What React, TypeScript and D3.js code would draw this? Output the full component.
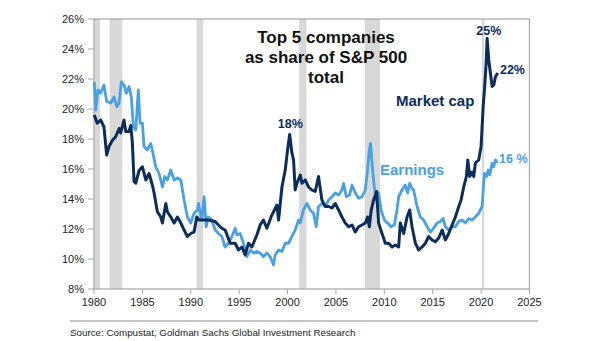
import React from "react";
import * as d3 from "d3";

const mcapYears = [1980.03,1980.34,1980.69,1981.03,1981.31,1981.55,1981.89,1982.24,1982.59,1982.76,1983.1,1983.28,1983.62,1983.8,1983.96,1984.14,1984.31,1984.66,1985.0,1985.35,1985.69,1986.03,1986.21,1986.55,1986.9,1987.07,1987.42,1987.58,1987.93,1988.28,1988.62,1988.97,1989.31,1989.65,1990.0,1990.34,1990.62,1990.86,1991.31,1991.82,1992.52,1992.86,1993.21,1993.55,1994.07,1994.59,1994.93,1995.28,1995.62,1995.96,1996.31,1996.83,1997.17,1997.51,1997.86,1998.38,1998.9,1999.07,1999.42,1999.76,2000.0,2000.22,2000.45,2000.62,2000.79,2000.97,2001.31,2001.49,2001.83,2002.17,2002.52,2002.86,2003.2,2003.55,2003.9,2004.24,2004.59,2004.93,2005.27,2005.62,2005.96,2006.31,2006.66,2007.0,2007.34,2007.69,2008.03,2008.27,2008.45,2008.65,2008.89,2009.2,2009.41,2009.76,2010.1,2010.44,2010.8,2011.14,2011.48,2011.65,2012.0,2012.35,2012.62,2012.86,2013.21,2013.55,2013.9,2014.24,2014.58,2014.93,2015.27,2015.62,2015.97,2016.31,2016.65,2017.0,2017.34,2017.69,2017.93,2018.2,2018.48,2018.62,2018.82,2019.07,2019.24,2019.41,2019.75,2020.0,2020.21,2020.37,2020.52,2020.62,2020.79,2020.96,2021.14,2021.31,2021.48,2021.72];
const mcapValues = [19.6,19.05,19.27,18.8,16.93,17.5,17.9,18.15,18.7,18.4,19.27,18.5,18.5,18.9,17.8,15.15,15.05,15.9,16.15,15.27,15.7,14.93,14.4,13.15,12.8,12.4,13.7,13.15,12.8,12.4,12.8,12.4,11.93,11.5,11.7,11.8,12.8,12.6,12.6,12.6,12.5,12.27,12.05,11.93,11.05,11.05,10.6,10.8,10.27,11.05,10.8,11.6,12.27,12.6,12.05,12.93,13.6,12.6,14.8,15.93,17.27,18.3,17.07,16.6,14.6,15.05,15.6,15.05,15.27,14.8,14.6,14.5,15.5,13.93,13.5,13.5,13.4,13.7,13.27,12.8,12.4,12.15,12.27,11.8,12.15,12.27,12.4,12.8,12.15,13.27,13.93,14.5,12.4,11.7,11.05,11.05,10.8,10.93,10.8,12.4,11.7,12.8,13.27,12.15,11.05,10.6,10.8,11.05,11.5,11.27,11.15,11.4,11.93,11.27,11.7,12.27,12.8,13.5,13.93,14.8,15.5,16.6,15.5,15.8,15.5,16.4,16.6,17.5,20.15,21.5,23.05,24.7,23.27,22.4,21.5,21.6,22.15,22.4];

const earnYears = [1980.03,1980.18,1980.41,1980.69,1981.03,1981.31,1981.73,1982.07,1982.35,1982.59,1982.82,1983.1,1983.34,1983.62,1983.86,1984.07,1984.31,1984.58,1984.76,1985.0,1985.17,1985.51,1985.87,1986.13,1986.38,1986.72,1987.07,1987.31,1987.58,1987.93,1988.28,1988.62,1988.97,1989.31,1989.65,1990.0,1990.34,1990.69,1990.79,1991.14,1991.38,1991.59,1991.82,1992.17,1992.52,1992.86,1993.21,1993.55,1993.89,1994.24,1994.59,1994.76,1995.1,1995.44,1995.8,1996.14,1996.48,1996.83,1997.17,1997.51,1997.86,1998.21,1998.55,1998.72,1999.07,1999.42,1999.76,2000.1,2000.45,2000.79,2001.13,2001.31,2001.65,2002.0,2002.34,2002.68,2002.96,2003.2,2003.55,2003.9,2004.24,2004.59,2004.93,2005.27,2005.62,2005.79,2006.07,2006.41,2006.66,2007.0,2007.34,2007.69,2008.03,2008.27,2008.45,2008.58,2008.76,2008.96,2009.17,2009.41,2009.66,2010.0,2010.34,2010.69,2011.03,2011.31,2011.48,2011.83,2012.17,2012.41,2012.62,2012.86,2013.03,2013.38,2013.72,2014.06,2014.42,2014.76,2015.1,2015.45,2015.79,2016.07,2016.31,2016.65,2017.0,2017.34,2017.69,2018.03,2018.38,2018.72,2019.07,2019.41,2019.75,2020.1,2020.34,2020.55,2020.73,2020.89,2021.14,2021.31,2021.48,2021.65];
const earnValues = [21.8,19.93,21.27,21.05,21.6,20.5,20.4,20.8,20.15,20.4,21.8,21.6,21.05,21.5,20.8,18.8,18.6,21.27,19.05,19.05,17.5,17.27,17.7,16.93,16.15,15.7,14.8,15.5,15.27,15.93,15.27,15.4,15.27,13.93,12.8,12.4,13.05,13.27,13.7,12.6,14.15,12.15,12.8,12.6,11.93,11.7,11.5,10.8,11.05,11.5,12.05,11.6,11.7,11.05,10.15,10.6,10.4,10.5,10.4,10.15,10.4,10.15,9.6,10.27,10.6,10.5,11.05,11.05,11.5,11.93,12.6,12.4,13.27,13.7,13.27,13.05,12.15,13.5,13.7,13.5,13.93,14.15,14.4,14.27,14.6,15.05,14.15,14.27,14.93,14.4,14.05,14.15,14.6,15.93,17.27,17.7,16.15,14.8,13.93,14.4,13.27,12.6,12.4,12.15,12.27,13.27,14.15,14.6,14.93,14.4,15.05,14.7,14.6,13.5,12.8,12.6,12.15,11.8,12.05,12.4,12.5,12.7,12.15,11.93,12.15,12.15,12.5,12.6,12.4,12.7,12.6,12.8,13.05,13.5,15.7,15.5,15.93,15.6,16.4,16.15,16.6,16.4];

const recessionStarts = [1980.0, 1981.62, 1990.6, 2001.2, 2007.98, 2020.08];
const recessionEnds = [1980.62, 1982.92, 1991.28, 2001.95, 2009.55, 2020.3];

const xTicks = [1980, 1985, 1990, 1995, 2000, 2005, 2010, 2015, 2020, 2025];
const yTicks = [8, 10, 12, 14, 16, 18, 20, 22, 24, 26];

const titleLines = ["Top 5 companies", "as share of S&P 500", "total"];
const sourceText = "Source: Compustat, Goldman Sachs Global Investment Research";

const NAVY = "#0c2d5c";
const LIGHT = "#4aa0e4";
const FONT = "Liberation Sans, Arial, sans-serif";

export default function App() {
  const W = 605, H = 341;
  const left = 94, right = 529.5, top = 19, bottom = 289;
  const x = d3.scaleLinear().domain([1980, 2025]).range([left, right]);
  const y = d3.scaleLinear().domain([8, 26]).range([bottom, top]);

  const line = d3.line<[number, number]>().x(d => x(d[0])).y(d => y(d[1])).curve(d3.curveLinear);
  const mcap = mcapYears.map((t, i) => [t, mcapValues[i]] as [number, number]);
  const earn = earnYears.map((t, i) => [t, earnValues[i]] as [number, number]);

  return (
    <svg width={W} height={H} style={{ position: "absolute", left: 0, top: 0, background: "#fff" }} fontFamily={FONT}>
      <rect x={0} y={0} width={W} height={H} fill="#fff" />
      {recessionStarts.map((s, i) => (
        <rect key={i} x={x(s)} y={top} width={Math.max(2, x(recessionEnds[i]) - x(s))} height={bottom - top} fill="#d8d8d8" />
      ))}
      <rect x={left} y={top} width={right - left} height={bottom - top} fill="none" stroke="#a6a6a6" strokeWidth={1.2} />
      {yTicks.map(v => (
        <g key={v}>
          <line x1={left - 6} x2={left} y1={y(v)} y2={y(v)} stroke="#a6a6a6" strokeWidth={1} />
          <text x={left - 10} y={y(v)} dy="0.35em" textAnchor="end" fontSize={11} fill="#222">{v + "%"}</text>
        </g>
      ))}
      {xTicks.map(v => (
        <g key={v}>
          <line x1={x(v)} x2={x(v)} y1={bottom} y2={bottom + 5} stroke="#a6a6a6" strokeWidth={1} />
          <text x={x(v)} y={bottom + 17} textAnchor="middle" fontSize={11} fill="#222">{v}</text>
        </g>
      ))}
      <path d={line(earn) || ""} fill="none" stroke={LIGHT} strokeWidth={2.8} strokeLinejoin="round" />
      <path d={line(mcap) || ""} fill="none" stroke={NAVY} strokeWidth={3} strokeLinejoin="round" />
      {titleLines.map((t, i) => (
        <text key={i} x={326} y={43 + i * 20} textAnchor="middle" fontSize={17} fontWeight="bold" fill="#111">{t}</text>
      ))}
      <text x={x(2000.28)} y={y(18.3) - 7} textAnchor="middle" fontSize={12.5} fontWeight="bold" fill={NAVY}>18%</text>
      <text x={x(2020.8)} y={y(24.7) - 4} textAnchor="middle" fontSize={12.5} fontWeight="bold" fill={NAVY}>25%</text>
      <text x={x(2021.95)} y={y(22.4) + 1} fontSize={12.5} fontWeight="bold" fill={NAVY}>22%</text>
      <text x={396} y={106} fontSize={15} fontWeight="bold" fill={NAVY}>Market cap</text>
      <text x={380} y={175} fontSize={15} fontWeight="bold" fill={LIGHT}>Earnings</text>
      <text x={x(2021.85)} y={y(16.4) - 0.5} fontSize={12.5} fontWeight="bold" fill={LIGHT}>16 %</text>
      <line x1={70} x2={538} y1={321} y2={321} stroke="#888" strokeWidth={1} />
      <text x={70} y={335.5} fontSize={9.8} fill="#222">{sourceText}</text>
    </svg>
  );
}
